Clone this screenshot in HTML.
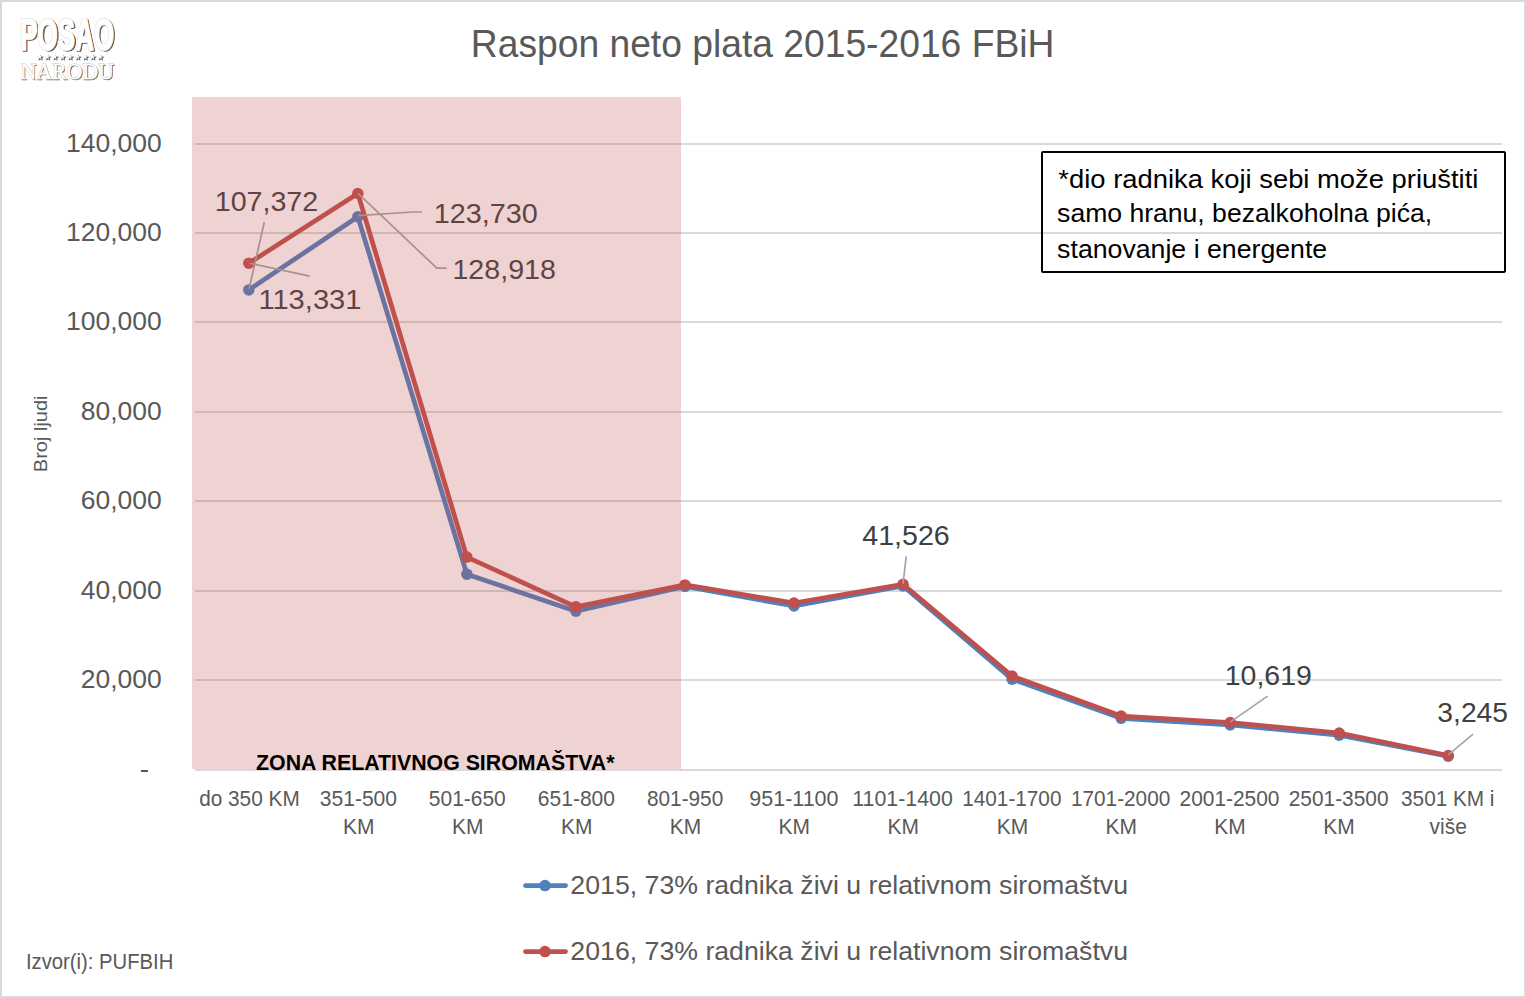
<!DOCTYPE html>
<html><head><meta charset="utf-8"><title>Raspon neto plata 2015-2016 FBiH</title>
<style>html,body{margin:0;padding:0;background:#fff;overflow:hidden}svg{display:block}text{font-family:"Liberation Sans",sans-serif}</style></head>
<body><svg width="1526" height="998" viewBox="0 0 1526 998">
<defs><filter id="blur" filterUnits="userSpaceOnUse" x="0" y="0" width="200" height="120"><feGaussianBlur stdDeviation="0.75"/></filter></defs>
<rect x="0" y="0" width="1526" height="998" fill="#ffffff"/>
<rect x="195" y="143" width="1307" height="2" fill="#d9d9d9"/>
<rect x="195" y="232" width="1307" height="2" fill="#d9d9d9"/>
<rect x="195" y="321" width="1307" height="2" fill="#d9d9d9"/>
<rect x="195" y="411" width="1307" height="2" fill="#d9d9d9"/>
<rect x="195" y="500" width="1307" height="2" fill="#d9d9d9"/>
<rect x="195" y="590" width="1307" height="2" fill="#d9d9d9"/>
<rect x="195" y="679" width="1307" height="2" fill="#d9d9d9"/>
<rect x="195" y="769" width="1307" height="2" fill="#d9d9d9"/>
<text x="66.12" y="151.90" font-size="25.8" fill="#595959" textLength="95.64" lengthAdjust="spacingAndGlyphs">140,000</text>
<text x="66.12" y="240.90" font-size="25.8" fill="#595959" textLength="95.64" lengthAdjust="spacingAndGlyphs">120,000</text>
<text x="66.12" y="329.90" font-size="25.8" fill="#595959" textLength="95.64" lengthAdjust="spacingAndGlyphs">100,000</text>
<text x="80.83" y="419.90" font-size="25.8" fill="#595959" textLength="80.93" lengthAdjust="spacingAndGlyphs">80,000</text>
<text x="80.83" y="508.90" font-size="25.8" fill="#595959" textLength="80.93" lengthAdjust="spacingAndGlyphs">60,000</text>
<text x="80.83" y="598.90" font-size="25.8" fill="#595959" textLength="80.93" lengthAdjust="spacingAndGlyphs">40,000</text>
<text x="80.83" y="687.90" font-size="25.8" fill="#595959" textLength="80.93" lengthAdjust="spacingAndGlyphs">20,000</text>
<rect x="141" y="770" width="7" height="2" fill="#595959"/>
<polyline points="248.80,289.89 357.84,216.74 466.88,574.19 575.92,611.22 684.96,586.44 794.00,605.99 903.04,586.00 1012.08,679.18 1121.12,718.31 1230.16,725.02 1339.20,735.21 1448.24,756.23" fill="none" stroke="#4f81bd" stroke-width="4.7" stroke-linejoin="round" stroke-linecap="round"/><circle cx="248.80" cy="289.89" r="5.75" fill="#4f81bd"/><circle cx="357.84" cy="216.74" r="5.75" fill="#4f81bd"/><circle cx="466.88" cy="574.19" r="5.75" fill="#4f81bd"/><circle cx="575.92" cy="611.22" r="5.75" fill="#4f81bd"/><circle cx="684.96" cy="586.44" r="5.75" fill="#4f81bd"/><circle cx="794.00" cy="605.99" r="5.75" fill="#4f81bd"/><circle cx="903.04" cy="586.00" r="5.75" fill="#4f81bd"/><circle cx="1012.08" cy="679.18" r="5.75" fill="#4f81bd"/><circle cx="1121.12" cy="718.31" r="5.75" fill="#4f81bd"/><circle cx="1230.16" cy="725.02" r="5.75" fill="#4f81bd"/><circle cx="1339.20" cy="735.21" r="5.75" fill="#4f81bd"/><circle cx="1448.24" cy="756.23" r="5.75" fill="#4f81bd"/>
<polyline points="248.80,263.24 357.84,193.54 466.88,557.11 575.92,606.79 684.96,584.88 794.00,602.99 903.04,584.32 1012.08,676.01 1121.12,715.98 1230.16,722.52 1339.20,733.00 1448.24,755.49" fill="none" stroke="#c0504d" stroke-width="4.7" stroke-linejoin="round" stroke-linecap="round"/><circle cx="248.80" cy="263.24" r="5.75" fill="#c0504d"/><circle cx="357.84" cy="193.54" r="5.75" fill="#c0504d"/><circle cx="466.88" cy="557.11" r="5.75" fill="#c0504d"/><circle cx="575.92" cy="606.79" r="5.75" fill="#c0504d"/><circle cx="684.96" cy="584.88" r="5.75" fill="#c0504d"/><circle cx="794.00" cy="602.99" r="5.75" fill="#c0504d"/><circle cx="903.04" cy="584.32" r="5.75" fill="#c0504d"/><circle cx="1012.08" cy="676.01" r="5.75" fill="#c0504d"/><circle cx="1121.12" cy="715.98" r="5.75" fill="#c0504d"/><circle cx="1230.16" cy="722.52" r="5.75" fill="#c0504d"/><circle cx="1339.20" cy="733.00" r="5.75" fill="#c0504d"/><circle cx="1448.24" cy="755.49" r="5.75" fill="#c0504d"/>
<polyline points="264.3,222.3 249.1,288.7" fill="none" stroke="#a6a6a6" stroke-width="1.7"/>
<polyline points="249.6,263.2 309.7,276.1" fill="none" stroke="#a6a6a6" stroke-width="1.7"/>
<polyline points="358.0,215.7 412.1,212.0 421.9,212.0" fill="none" stroke="#a6a6a6" stroke-width="1.7"/>
<polyline points="358.0,193.4 436.9,268.2 446.7,268.2" fill="none" stroke="#a6a6a6" stroke-width="1.7"/>
<polyline points="903.1,583.6 906.2,556.3" fill="none" stroke="#a6a6a6" stroke-width="1.7"/>
<polyline points="1230.5,721.9 1267.6,696.1" fill="none" stroke="#a6a6a6" stroke-width="1.7"/>
<polyline points="1448.6,754.6 1473.0,734.2" fill="none" stroke="#a6a6a6" stroke-width="1.7"/>
<text x="214.75" y="211.00" font-size="28.3" fill="#404040" textLength="103.47" lengthAdjust="spacingAndGlyphs">107,372</text>
<text x="258.42" y="309.10" font-size="28.3" fill="#404040" textLength="103.03" lengthAdjust="spacingAndGlyphs">113,331</text>
<text x="433.74" y="223.20" font-size="28.3" fill="#404040" textLength="104.10" lengthAdjust="spacingAndGlyphs">123,730</text>
<text x="452.45" y="278.70" font-size="28.3" fill="#404040" textLength="103.53" lengthAdjust="spacingAndGlyphs">128,918</text>
<text x="862.23" y="544.70" font-size="28.3" fill="#404040" textLength="87.55" lengthAdjust="spacingAndGlyphs">41,526</text>
<text x="1224.77" y="685.10" font-size="28.3" fill="#404040" textLength="87.05" lengthAdjust="spacingAndGlyphs">10,619</text>
<text x="1437.31" y="722.20" font-size="28.3" fill="#404040" textLength="70.75" lengthAdjust="spacingAndGlyphs">3,245</text>
<rect x="192" y="97" width="489" height="672" fill="#c0504d" fill-opacity="0.25"/>
<text x="470.82" y="56.60" font-size="38.5" fill="#595959" textLength="583.55" lengthAdjust="spacingAndGlyphs">Raspon neto plata 2015-2016 FBiH</text>
<text x="199.17" y="805.90" font-size="21.3" fill="#595959" textLength="100.55" lengthAdjust="spacingAndGlyphs">do 350 KM</text>
<text x="319.76" y="805.90" font-size="21.3" fill="#595959" textLength="77.30" lengthAdjust="spacingAndGlyphs">351-500</text>
<text x="342.96" y="833.60" font-size="21.3" fill="#595959" textLength="31.43" lengthAdjust="spacingAndGlyphs">KM</text>
<text x="428.86" y="805.90" font-size="21.3" fill="#595959" textLength="76.90" lengthAdjust="spacingAndGlyphs">501-650</text>
<text x="451.91" y="833.60" font-size="21.3" fill="#595959" textLength="31.43" lengthAdjust="spacingAndGlyphs">KM</text>
<text x="537.85" y="805.90" font-size="21.3" fill="#595959" textLength="77.11" lengthAdjust="spacingAndGlyphs">651-800</text>
<text x="561.11" y="833.60" font-size="21.3" fill="#595959" textLength="31.43" lengthAdjust="spacingAndGlyphs">KM</text>
<text x="646.97" y="805.90" font-size="21.3" fill="#595959" textLength="76.28" lengthAdjust="spacingAndGlyphs">801-950</text>
<text x="669.71" y="833.60" font-size="21.3" fill="#595959" textLength="31.43" lengthAdjust="spacingAndGlyphs">KM</text>
<text x="749.33" y="805.90" font-size="21.3" fill="#595959" textLength="89.14" lengthAdjust="spacingAndGlyphs">951-1100</text>
<text x="778.56" y="833.60" font-size="21.3" fill="#595959" textLength="31.43" lengthAdjust="spacingAndGlyphs">KM</text>
<text x="852.30" y="805.90" font-size="21.3" fill="#595959" textLength="100.47" lengthAdjust="spacingAndGlyphs">1101-1400</text>
<text x="887.51" y="833.60" font-size="21.3" fill="#595959" textLength="31.43" lengthAdjust="spacingAndGlyphs">KM</text>
<text x="962.24" y="805.90" font-size="21.3" fill="#595959" textLength="99.21" lengthAdjust="spacingAndGlyphs">1401-1700</text>
<text x="996.81" y="833.60" font-size="21.3" fill="#595959" textLength="31.43" lengthAdjust="spacingAndGlyphs">KM</text>
<text x="1070.94" y="805.90" font-size="21.3" fill="#595959" textLength="99.31" lengthAdjust="spacingAndGlyphs">1701-2000</text>
<text x="1105.56" y="833.60" font-size="21.3" fill="#595959" textLength="31.43" lengthAdjust="spacingAndGlyphs">KM</text>
<text x="1179.56" y="805.90" font-size="21.3" fill="#595959" textLength="99.90" lengthAdjust="spacingAndGlyphs">2001-2500</text>
<text x="1214.21" y="833.60" font-size="21.3" fill="#595959" textLength="31.43" lengthAdjust="spacingAndGlyphs">KM</text>
<text x="1288.76" y="805.90" font-size="21.3" fill="#595959" textLength="99.80" lengthAdjust="spacingAndGlyphs">2501-3500</text>
<text x="1323.36" y="833.60" font-size="21.3" fill="#595959" textLength="31.43" lengthAdjust="spacingAndGlyphs">KM</text>
<text x="1401.07" y="805.90" font-size="21.3" fill="#595959" textLength="93.42" lengthAdjust="spacingAndGlyphs">3501 KM i</text>
<text x="1429.55" y="833.60" font-size="21.3" fill="#595959" textLength="37.26" lengthAdjust="spacingAndGlyphs">više</text>
<text x="256.07" y="769.80" font-size="22.8" fill="#000000" font-weight="bold" textLength="358.41" lengthAdjust="spacingAndGlyphs">ZONA RELATIVNOG SIROMAŠTVA*</text>
<text x="1058.39" y="187.90" font-size="25.2" fill="#000000" textLength="419.95" lengthAdjust="spacingAndGlyphs">*dio radnika koji sebi može priuštiti</text>
<text x="1057.14" y="222.40" font-size="25.2" fill="#000000" textLength="375.00" lengthAdjust="spacingAndGlyphs">samo hranu, bezalkoholna pića,</text>
<text x="1057.13" y="258.20" font-size="25.2" fill="#000000" textLength="270.07" lengthAdjust="spacingAndGlyphs">stanovanje i energente</text>
<text x="570.37" y="893.80" font-size="25.3" fill="#595959" textLength="557.70" lengthAdjust="spacingAndGlyphs">2015, 73% radnika živi u relativnom siromaštvu</text>
<text x="570.37" y="959.60" font-size="25.3" fill="#595959" textLength="557.70" lengthAdjust="spacingAndGlyphs">2016, 73% radnika živi u relativnom siromaštvu</text>
<text x="25.98" y="969.00" font-size="21.6" fill="#595959" textLength="147.28" lengthAdjust="spacingAndGlyphs">Izvor(i): PUFBIH</text>
<rect x="1042" y="152" width="463" height="120" fill="none" stroke="#000" stroke-width="2" rx="1"/>
<line x1="525.5" y1="885.6" x2="565.6" y2="885.6" stroke="#4f81bd" stroke-width="4.7" stroke-linecap="round"/>
<circle cx="545" cy="885.6" r="5.75" fill="#4f81bd"/>
<line x1="525.5" y1="951.6" x2="565.6" y2="951.6" stroke="#c0504d" stroke-width="4.7" stroke-linecap="round"/>
<circle cx="545" cy="951.6" r="5.75" fill="#c0504d"/>
<text transform="translate(46.8,472.20) rotate(-90)" x="0" y="0" font-size="18.6" fill="#595959" textLength="76.75" lengthAdjust="spacingAndGlyphs">Broj ljudi</text>
<g>
<text x="21.51" y="51.10" font-size="44" style="font-weight:bold" fill="#555" stroke="#555" stroke-width="1.4" stroke-linejoin="round" textLength="94.08" lengthAdjust="spacingAndGlyphs" filter="url(#blur)">POSAO</text>
<text x="19.91" y="49.6" font-size="44" style="font-weight:bold" fill="#ffffff" stroke="#d4d4d4" stroke-width="2.2" stroke-linejoin="round" textLength="94.08" lengthAdjust="spacingAndGlyphs">POSAO</text>
<text x="19.91" y="49.6" font-size="44" style="font-weight:bold" fill="#ffffff" stroke="#ffffff" stroke-width="1.2" stroke-linejoin="round" textLength="94.08" lengthAdjust="spacingAndGlyphs">POSAO</text>
<text x="21.55" y="79.70" style="font-family:'Liberation Serif',serif" font-size="23.8" fill="#6a6a6a" stroke="#6a6a6a" stroke-width="0.3" textLength="93.42" lengthAdjust="spacingAndGlyphs" filter="url(#blur)">NARODU</text>
<text x="20.45" y="78.6" style="font-family:'Liberation Serif',serif" font-size="23.8" fill="#ffffff" stroke="#cccccc" stroke-width="0.9" textLength="93.42" lengthAdjust="spacingAndGlyphs">NARODU</text>
<text x="20.45" y="78.6" style="font-family:'Liberation Serif',serif" font-size="23.8" fill="#ffffff" stroke="#ffffff" stroke-width="0.1" textLength="93.42" lengthAdjust="spacingAndGlyphs">NARODU</text>
<polygon points="40.60,54.40 41.60,56.52 43.93,56.82 42.22,58.43 42.66,60.73 40.60,59.60 38.54,60.73 38.98,58.43 37.27,56.82 39.60,56.52" fill="#6a6a6a" filter="url(#blur)"/><polygon points="39.50,53.40 40.32,55.47 42.54,55.61 40.83,57.03 41.38,59.19 39.50,58.00 37.62,59.19 38.17,57.03 36.46,55.61 38.68,55.47" fill="#fff"/><polygon points="48.15,54.40 49.15,56.52 51.48,56.82 49.77,58.43 50.21,60.73 48.15,59.60 46.09,60.73 46.53,58.43 44.82,56.82 47.15,56.52" fill="#6a6a6a" filter="url(#blur)"/><polygon points="47.05,53.40 47.87,55.47 50.09,55.61 48.38,57.03 48.93,59.19 47.05,58.00 45.17,59.19 45.72,57.03 44.01,55.61 46.23,55.47" fill="#fff"/><polygon points="55.70,54.40 56.70,56.52 59.03,56.82 57.32,58.43 57.76,60.73 55.70,59.60 53.64,60.73 54.08,58.43 52.37,56.82 54.70,56.52" fill="#6a6a6a" filter="url(#blur)"/><polygon points="54.60,53.40 55.42,55.47 57.64,55.61 55.93,57.03 56.48,59.19 54.60,58.00 52.72,59.19 53.27,57.03 51.56,55.61 53.78,55.47" fill="#fff"/><polygon points="63.25,54.40 64.25,56.52 66.58,56.82 64.87,58.43 65.31,60.73 63.25,59.60 61.19,60.73 61.63,58.43 59.92,56.82 62.25,56.52" fill="#6a6a6a" filter="url(#blur)"/><polygon points="62.15,53.40 62.97,55.47 65.19,55.61 63.48,57.03 64.03,59.19 62.15,58.00 60.27,59.19 60.82,57.03 59.11,55.61 61.33,55.47" fill="#fff"/><polygon points="70.80,54.40 71.80,56.52 74.13,56.82 72.42,58.43 72.86,60.73 70.80,59.60 68.74,60.73 69.18,58.43 67.47,56.82 69.80,56.52" fill="#6a6a6a" filter="url(#blur)"/><polygon points="69.70,53.40 70.52,55.47 72.74,55.61 71.03,57.03 71.58,59.19 69.70,58.00 67.82,59.19 68.37,57.03 66.66,55.61 68.88,55.47" fill="#fff"/><polygon points="78.35,54.40 79.35,56.52 81.68,56.82 79.97,58.43 80.41,60.73 78.35,59.60 76.29,60.73 76.73,58.43 75.02,56.82 77.35,56.52" fill="#6a6a6a" filter="url(#blur)"/><polygon points="77.25,53.40 78.07,55.47 80.29,55.61 78.58,57.03 79.13,59.19 77.25,58.00 75.37,59.19 75.92,57.03 74.21,55.61 76.43,55.47" fill="#fff"/><polygon points="85.90,54.40 86.90,56.52 89.23,56.82 87.52,58.43 87.96,60.73 85.90,59.60 83.84,60.73 84.28,58.43 82.57,56.82 84.90,56.52" fill="#6a6a6a" filter="url(#blur)"/><polygon points="84.80,53.40 85.62,55.47 87.84,55.61 86.13,57.03 86.68,59.19 84.80,58.00 82.92,59.19 83.47,57.03 81.76,55.61 83.98,55.47" fill="#fff"/><polygon points="93.45,54.40 94.45,56.52 96.78,56.82 95.07,58.43 95.51,60.73 93.45,59.60 91.39,60.73 91.83,58.43 90.12,56.82 92.45,56.52" fill="#6a6a6a" filter="url(#blur)"/><polygon points="92.35,53.40 93.17,55.47 95.39,55.61 93.68,57.03 94.23,59.19 92.35,58.00 90.47,59.19 91.02,57.03 89.31,55.61 91.53,55.47" fill="#fff"/><polygon points="101.00,54.40 102.00,56.52 104.33,56.82 102.62,58.43 103.06,60.73 101.00,59.60 98.94,60.73 99.38,58.43 97.67,56.82 100.00,56.52" fill="#6a6a6a" filter="url(#blur)"/><polygon points="99.90,53.40 100.72,55.47 102.94,55.61 101.23,57.03 101.78,59.19 99.90,58.00 98.02,59.19 98.57,57.03 96.86,55.61 99.08,55.47" fill="#fff"/></g>
<rect x="1" y="1" width="1524" height="996" fill="none" stroke="#d9d9d9" stroke-width="2"/>
</svg></body></html>
